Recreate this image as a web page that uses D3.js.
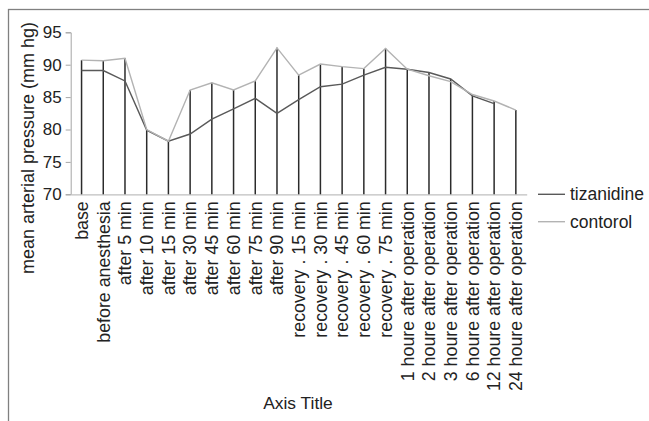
<!DOCTYPE html>
<html><head><meta charset="utf-8">
<script src="https://cdn.jsdelivr.net/npm/d3@7"></script>
<style>body{margin:0;background:#fff}svg{display:block}text{font-family:"Liberation Sans",Arial,sans-serif;fill:#222}</style>
</head><body><svg id="c" width="649" height="421"></svg>
<script>
const categories = ["base","before anesthesia","after 5 min","after 10 min","after 15 min","after 30 min","after 45 min","after 60 min","after 75 min","after 90 min","recovery . 15 min","recovery . 30 min","recovery . 45 min","recovery . 60 min","recovery . 75 min","1 houre after operation","2 houre after operation","3 houre after operation","6 houre after operation","12 houre after operation","24 houre after operation"];
const tizanidine = [89.1,89.1,87.5,79.9,78.2,79.3,81.6,83.2,84.8,82.5,84.6,86.6,87.0,88.4,89.6,89.3,88.8,87.8,85.2,84.0,null];
const contorol = [90.7,90.6,91.0,80.0,78.2,86.1,87.2,86.1,87.5,92.6,88.4,90.1,89.7,89.4,92.5,89.3,88.3,87.4,85.4,84.4,83.0];
const yTicks = [70,75,80,85,90,95];
const seriesNames = ["tizanidine","contorol"];
const seriesColors = ["#595959","#b3b3b3"];

const svg = d3.select("#c");
svg.append("rect").attr("x",8.5).attr("y",9.5).attr("width",700).attr("height",500)
  .attr("fill","none").attr("stroke","#808080").attr("stroke-width",1.3);

const x = d3.scaleBand().domain(categories).range([70.7,526.7]);
const y = d3.scaleLinear().domain([70,95]).range([194.3,32.3]);
const cx = d => x(d)+x.bandwidth()/2;

// y axis
const ya = svg.append("g").attr("transform","translate(70.7,0)")
  .call(d3.axisLeft(y).tickValues(yTicks).tickSize(5).tickPadding(4));
ya.select(".domain").attr("stroke","#a6a6a6");
ya.selectAll(".tick line").attr("stroke","#a6a6a6");
ya.selectAll(".tick text").attr("font-size","17px").attr("fill","#222").attr("font-family","Liberation Sans, Arial, sans-serif");

// x axis
const xa = svg.append("g").attr("transform","translate(0,194.3)")
  .call(d3.axisBottom(x).tickSize(0).tickPadding(0));
xa.select(".domain").attr("stroke","#bfbfbf").attr("stroke-width",1.3);
xa.selectAll(".tick text").attr("font-size","17.8px").attr("fill","#222")
  .attr("font-family","Liberation Sans, Arial, sans-serif")
  .attr("text-anchor","end").attr("transform","rotate(-90)")
  .attr("x",-7).attr("y",0).attr("dy","0.35em");

// drop lines
svg.append("g").selectAll("line").data(categories).join("line")
  .attr("x1",d=>cx(d)).attr("x2",d=>cx(d))
  .attr("y1",(d,i)=>y(d3.max([tizanidine[i],contorol[i]])))
  .attr("y2",y(70))
  .attr("stroke","#2b2b2b").attr("stroke-width",1.5);

// lines
[tizanidine,contorol].forEach((s,k)=>{
  const line = d3.line().defined(v=>v!=null).x((v,i)=>cx(categories[i])).y(v=>y(v));
  svg.append("path").datum(s).attr("d",line).attr("fill","none")
    .attr("stroke",seriesColors[k]).attr("stroke-width",1.4);
});

// legend
seriesNames.forEach((n,k)=>{
  const ly = 194.3 + k*27.4;
  svg.append("line").attr("x1",538).attr("x2",565).attr("y1",ly).attr("y2",ly)
    .attr("stroke",seriesColors[k]).attr("stroke-width",1.4);
  svg.append("text").attr("x",570).attr("y",ly).attr("dy","0.35em")
    .attr("font-size","17.5px").text(n);
});

// axis titles
svg.append("text").attr("x",298).attr("y",409).attr("text-anchor","middle")
  .attr("font-size","17.4px").text("Axis Title");
svg.append("text").attr("transform","translate(34,22) rotate(-90)")
  .attr("text-anchor","end").attr("font-size","18px").text("mean arterial pressure (mm hg)");
</script></body></html>
